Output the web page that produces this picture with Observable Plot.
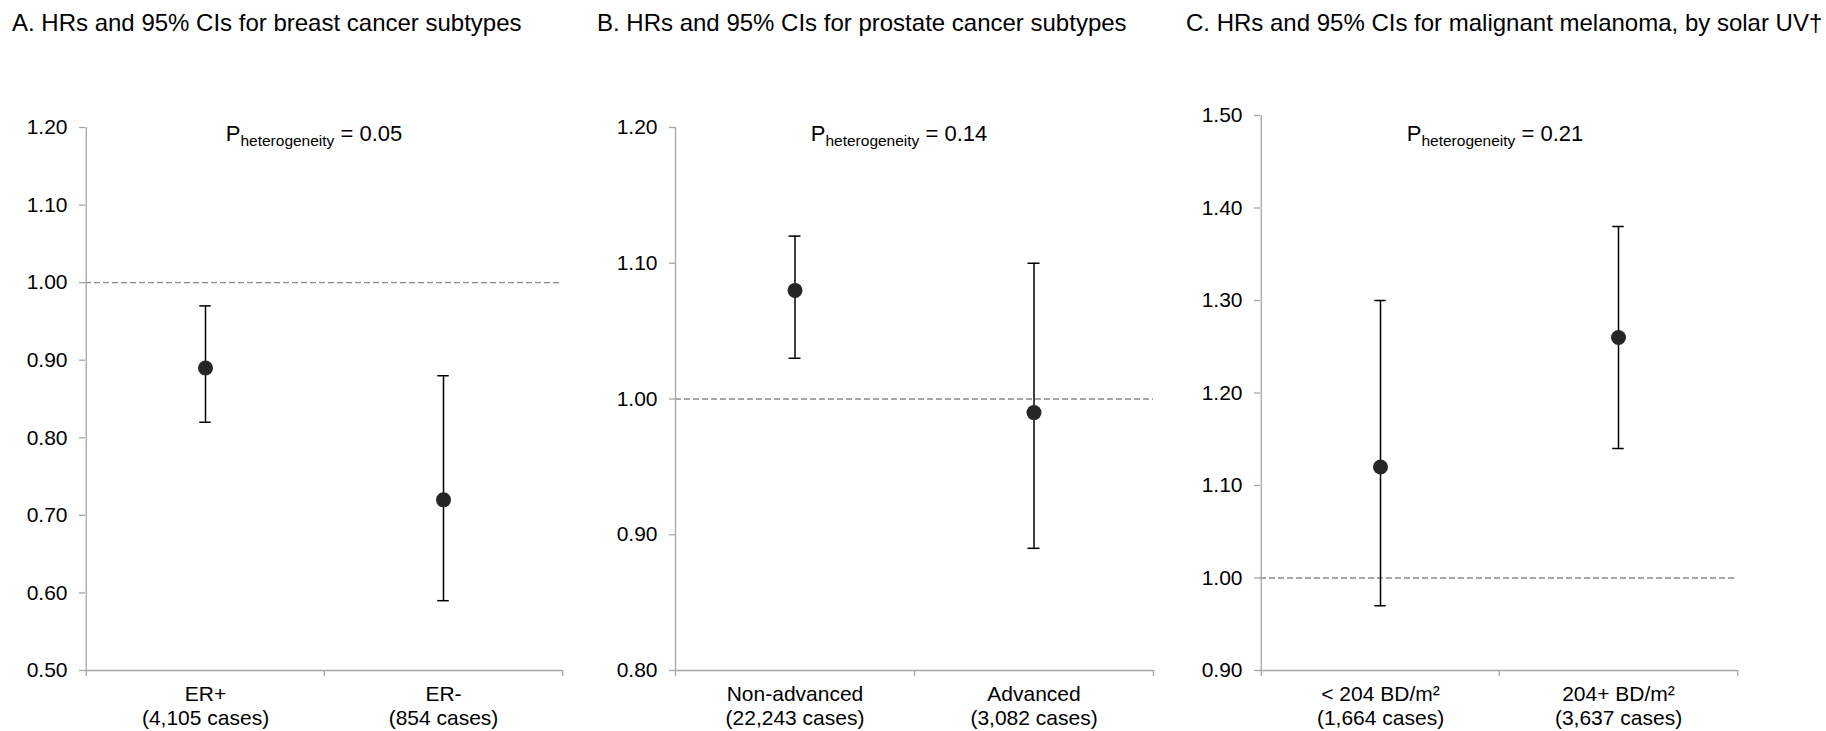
<!DOCTYPE html>
<html><head><meta charset="utf-8">
<script src="https://cdn.jsdelivr.net/npm/d3@7"></script>
<script src="https://cdn.jsdelivr.net/npm/@observablehq/plot@0.6"></script>
<style>
body{margin:0;background:#fff;}
#root{position:relative;width:1826px;height:731px;font-family:"Liberation Sans",Arial,sans-serif;color:#000;overflow:hidden;background:#fff}
.title{position:absolute;top:9px;font-size:24px;line-height:28px;white-space:nowrap}
.pval{position:absolute;top:121px;font-size:22px;line-height:26px;white-space:nowrap;transform:translateX(-50%)}
.pval sub{font-size:15.5px;vertical-align:baseline;position:relative;top:5px}
.panel{position:absolute;top:60px}
.panel svg{display:block}
</style></head><body><div id="root"></div>
<script>
// ---- data ----
const titles = [
  "A. HRs and 95% CIs for breast cancer subtypes",
  "B. HRs and 95% CIs for prostate cancer subtypes",
  "C. HRs and 95% CIs for malignant melanoma, by solar UV\u2020"
];
const pValues = ["0.05", "0.14", "0.21"];

const catsA = ["ER+", "ER-"];
const casesA = ["(4,105 cases)", "(854 cases)"];
const hrA = [0.89, 0.72];
const loA = [0.82, 0.59];
const hiA = [0.97, 0.88];
const yTicksA = [0.50, 0.60, 0.70, 0.80, 0.90, 1.00, 1.10, 1.20];

const catsB = ["Non-advanced", "Advanced"];
const casesB = ["(22,243 cases)", "(3,082 cases)"];
const hrB = [1.08, 0.99];
const loB = [1.03, 0.89];
const hiB = [1.12, 1.10];
const yTicksB = [0.80, 0.90, 1.00, 1.10, 1.20];

const catsC = ["< 204 BD/m\u00b2", "204+ BD/m\u00b2"];
const casesC = ["(1,664 cases)", "(3,637 cases)"];
const hrC = [1.12, 1.26];
const loC = [0.97, 1.14];
const hiC = [1.30, 1.38];
const yTicksC = [0.90, 1.00, 1.10, 1.20, 1.30, 1.40, 1.50];

const refValue = 1.00;

// ---- layout ----
const panels = [
  {cats: catsA, cases: casesA, hr: hrA, lo: loA, hi: hiA, ticks: yTicksA,
   left: 0, width: 600, mL: 85, mR: 38, mT: 67, mB: 61, titleLeft: 12, pCenter: 314},
  {cats: catsB, cases: casesB, hr: hrB, lo: loB, hi: hiB, ticks: yTicksB,
   left: 600, width: 600, mL: 75, mR: 47, mT: 67, mB: 61, titleLeft: 597, pCenter: 899},
  {cats: catsC, cases: casesC, hr: hrC, lo: loC, hi: hiC, ticks: yTicksC,
   left: 1200, width: 626, mL: 60, mR: 89, mT: 55, mB: 61, titleLeft: 1186, pCenter: 1495}
];
const svgHeight = 671;
const axisGray = "#a6a6a6";
const fmt = d3.format(".2f");

const root = document.getElementById("root");

panels.forEach((p, k) => {
  const t = document.createElement("div");
  t.className = "title";
  t.style.left = p.titleLeft + "px";
  t.textContent = titles[k];
  root.appendChild(t);

  const data = p.cats.map((c, i) => ({cat: c, cases: p.cases[i], hr: p.hr[i], lo: p.lo[i], hi: p.hi[i]}));
  const plotW = p.width - p.mL - p.mR;
  const plotH = svgHeight - p.mT - p.mB;
  const step = plotW / p.cats.length;
  const capHalf = 6;
  const labelOf = new Map(data.map(d => [d.cat, d.cat + "\n" + d.cases]));
  const last = p.cats[p.cats.length - 1];

  const chart = Plot.plot({
    width: p.width,
    height: svgHeight,
    marginLeft: p.mL, marginRight: p.mR, marginTop: p.mT, marginBottom: p.mB,
    style: {fontFamily: "'Liberation Sans', Arial, sans-serif", fontSize: "21px", color: "#000", background: "#fff", overflow: "visible"},
    x: {type: "band", domain: p.cats, padding: 0},
    y: {domain: [p.ticks[0], p.ticks[p.ticks.length - 1]]},
    marks: [
      Plot.ruleY([refValue], {stroke: "#8c8c8c", strokeWidth: 1.3, strokeDasharray: "6,3"}),
      // y axis line
      Plot.ruleX([p.cats[0]], {x: d => d, dx: -step / 2, insetBottom: -6, stroke: axisGray, strokeWidth: 1.3}),
      // x axis line
      Plot.ruleY([p.ticks[0]], {stroke: axisGray, strokeWidth: 1.3}),
      // category boundary ticks
      Plot.ruleX(p.cats.slice(1), {x: d => d, dx: -step / 2, insetTop: plotH, insetBottom: -6, stroke: axisGray, strokeWidth: 1.3}),
      Plot.ruleX([last], {x: d => d, dx: step / 2, insetTop: plotH, insetBottom: -6, stroke: axisGray, strokeWidth: 1.3}),
      // y ticks
      Plot.tickY(p.ticks, {y: d => d, insetRight: plotW, insetLeft: -6, stroke: axisGray, strokeWidth: 1.3}),
      Plot.axisY({ticks: p.ticks, tickFormat: fmt, tickSize: 0, tickPadding: 18, fontSize: 21, fill: "#000", label: null}),
      Plot.axisX({tickSize: 0, tickPadding: 13, tickFormat: d => labelOf.get(d), fontSize: 21, lineHeight: 1.15, fill: "#000", label: null}),
      // error bars
      Plot.ruleX(data, {x: "cat", y1: "lo", y2: "hi", stroke: "#000", strokeWidth: 1.5}),
      Plot.tickY(data, {x: "cat", y: "lo", insetLeft: step / 2 - capHalf, insetRight: step / 2 - capHalf, stroke: "#000", strokeWidth: 1.5}),
      Plot.tickY(data, {x: "cat", y: "hi", insetLeft: step / 2 - capHalf, insetRight: step / 2 - capHalf, stroke: "#000", strokeWidth: 1.5}),
      Plot.dot(data, {x: "cat", y: "hr", r: 7.5, fill: "#262626", stroke: "none"})
    ]
  });
  const wrap = document.createElement("div");
  wrap.className = "panel";
  wrap.style.left = p.left + "px";
  wrap.appendChild(chart);
  root.appendChild(wrap);

  const pv = document.createElement("div");
  pv.className = "pval";
  pv.style.left = p.pCenter + "px";
  pv.innerHTML = "P<sub>heterogeneity</sub> = " + pValues[k];
  root.appendChild(pv);
});
</script>
</body></html>
